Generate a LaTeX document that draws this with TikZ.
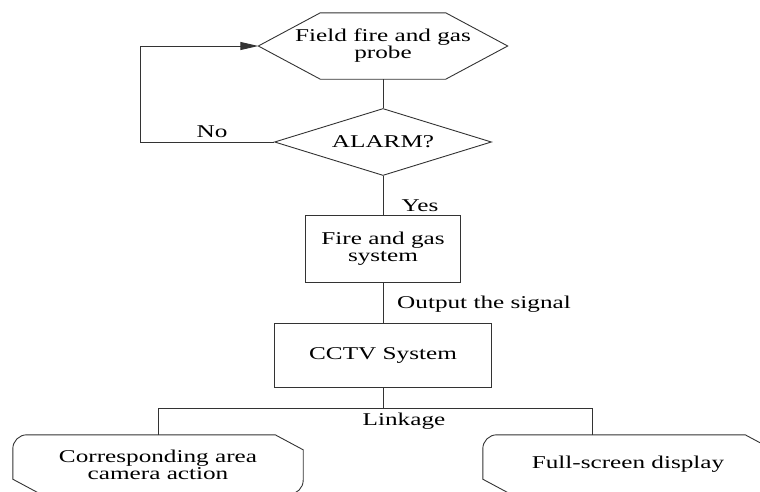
\documentclass[tikz,border=0pt]{standalone}
\usepackage{fontspec}
\setmainfont{Liberation Serif}[FakeStretch=1.4]
\usetikzlibrary{arrows.meta,shapes.geometric,calc}

\tikzset{
  line/.style={draw=black!80, line width=0.9pt},
  txt/.style={font=\fontsize{18}{17}\selectfont, text=black, align=center, inner sep=0pt},
  box/.style={txt, line, rectangle},
  plain/.style={txt, draw=none, rectangle},
  decision/.style={txt, line, diamond, aspect=3.2, inner sep=0pt},
  lbl/.style={txt}
}

\begin{document}
\begin{tikzpicture}[x=1pt, y=-1pt]
  \useasboundingbox (0,0) rectangle (760,491);
  \clip (0,0) rectangle (760,491);

  % flow nodes
  \node[plain, minimum width=249pt, minimum height=66pt] (probe) at (383,46)
       {Field fire and gas\\probe};
  \node[decision, minimum width=217pt, minimum height=67pt] (alarm) at (383,142) {ALARM?};
  \node[box, minimum width=155pt, minimum height=67pt] (fgs) at (383,248.5)
       {Fire and gas\\system};
  \node[box, minimum width=217pt, minimum height=64pt] (cctv) at (383,355) {CCTV System};
  \node[plain, minimum width=290pt, minimum height=59pt] (cam) at (158,464.5)
       {Corresponding area\\camera action};
  \node[plain, minimum width=290pt, minimum height=59pt] (full) at (628,464.5)
       {Full-screen display};

  % hexagon outline of the probe
  \draw[line] (probe.west) -- ([xshift=62pt]probe.north west)
    -- ([xshift=-62pt]probe.north east) -- (probe.east)
    -- ([xshift=-62pt]probe.south east) -- ([xshift=62pt]probe.south west) -- cycle;

  % outlines of the two output boxes
  \foreach \n in {cam,full}{
    \draw[line] ([yshift=15pt]\n.south west) -- ([yshift=-14pt]\n.north west)
      arc[start angle=180, end angle=90, radius=14pt]
      -- ([xshift=-28pt]\n.north east) -- ([yshift=-15pt]\n.north east)
      -- ([yshift=14pt]\n.south east)
      arc[start angle=0, end angle=-90, radius=14pt]
      -- ([xshift=28pt]\n.south west) -- cycle;
  }

  % connectors
  \draw[line] (probe.south) -- (alarm.north);
  \draw[line] (alarm.south) -- (fgs.north);
  \draw[line] (fgs.south) -- (cctv.north);
  \draw[line, -{Triangle[length=18pt, width=8pt]}]
    (alarm.west) -- ++(-134,0) |- (probe.west);

  \coordinate (link) at (383,408);
  \draw[line] (cctv.south) -- (link);
  \draw[line] (cam.north) |- (link);
  \draw[line] (link) -| ([xshift=-36pt]full.north);

  % connector labels
  \node[lbl] (no) at (212,132) {No};
  \node[lbl] (yes) at (420,206) {Yes};
  \node[lbl] (out) at (484,304) {Output the signal};
  \node[lbl] (lnk) at (404,421) {Linkage};
\end{tikzpicture}
\end{document}
